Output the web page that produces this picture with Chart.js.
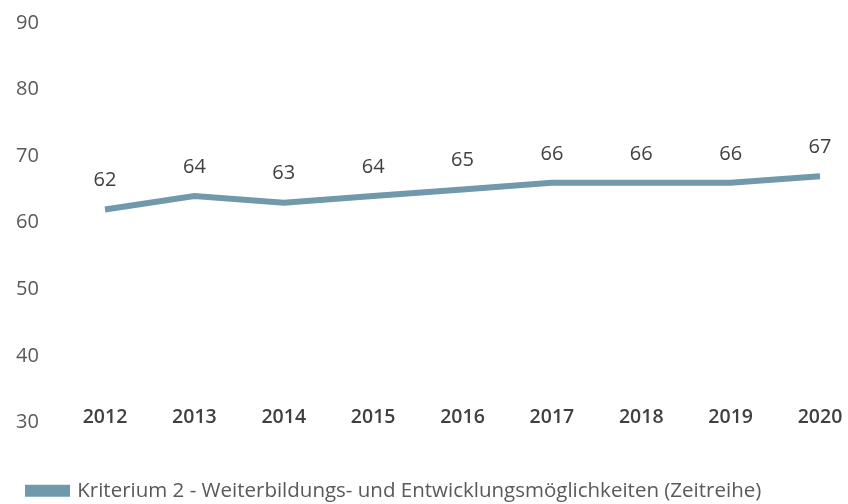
<!DOCTYPE html>
<html lang="de">
<head>
<meta charset="utf-8">
<script src="https://cdn.jsdelivr.net/npm/chart.js@4.4.1/dist/chart.umd.min.js"></script>
<style>
  html, body { margin: 0; padding: 0; background: #fff; }
  #wrap { width: 848px; height: 504px; }
</style>
</head>
<body>
<div id="wrap"><canvas id="trendChart" width="848" height="504"></canvas></div>
<script>
// Jahre und Werte der Zeitreihe
const years = ['2012', '2013', '2014', '2015', '2016', '2017', '2018', '2019', '2020'];
const values = [62, 64, 63, 64, 65, 66, 66, 66, 67];
const yTicks = [30, 40, 50, 60, 70, 80, 90];
const seriesLabel = 'Kriterium 2 - Weiterbildungs- und Entwicklungsmöglichkeiten (Zeitreihe)';

const lineColor = '#7099ab';
const fontFamily = '"Open Sans", "Noto Sans", sans-serif';

// Werte über die Linienpunkte schreiben
const valueLabels = {
    id: 'valueLabels',
    afterDatasetsDraw(chart) {
        const ctx = chart.ctx;
        const meta = chart.getDatasetMeta(0);
        ctx.save();
        ctx.font = '20px ' + fontFamily;
        ctx.fillStyle = '#404040';
        ctx.textAlign = 'center';
        ctx.textBaseline = 'middle';
        meta.data.forEach(function(pt, i) {
            ctx.fillText(String(values[i]), pt.x, pt.y - 29);
        });
        ctx.restore();
    }
};

// Legende etwas tiefer setzen, näher an den unteren Rand
const legendShift = {
    id: 'legendShift',
    afterLayout(chart) {
        const lg = chart.legend;
        if (!lg) return;
        lg.top += 7;
        lg.bottom += 7;
    }
};

const ctx = document.getElementById('trendChart').getContext('2d');
new Chart(ctx, {
    type: 'line',
    data: {
        labels: years,
        datasets: [{
            label: seriesLabel,
            data: values,
            borderColor: lineColor,
            backgroundColor: lineColor,
            borderWidth: 6,
            borderCapStyle: 'butt',
            borderJoinStyle: 'miter',
            tension: 0,
            pointRadius: 0,
            pointHoverRadius: 0,
            fill: false
        }]
    },
    options: {
        responsive: false,
        animation: false,
        layout: {
            padding: { top: 23, right: 28, bottom: 0, left: 16 }
        },
        plugins: {
            tooltip: { enabled: false },
            legend: {
                position: 'bottom',
                align: 'start',
                labels: {
                    boxWidth: 39,
                    boxHeight: 6,
                    color: '#595959',
                    padding: 12,
                    font: { family: fontFamily, size: 20.5 }
                }
            }
        },
        scales: {
            x: {
                offset: false,
                grid: { display: false },
                border: { display: false },
                afterFit: function(scale) {
                    scale.height = 39;
                },
                ticks: {
                    mirror: true,
                    color: '#404040',
                    padding: -7,
                    maxRotation: 0,
                    autoSkip: false,
                    font: { family: fontFamily, size: 19.5, weight: '600' }
                }
            },
            y: {
                min: 30,
                max: 90,
                afterBuildTicks: function(scale) {
                    scale.ticks = yTicks.map(function(v) { return { value: v }; });
                },
                afterFit: function(scale) {
                    scale.width = 89;
                },
                grid: { display: false },
                border: { display: false },
                ticks: {
                    color: '#595959',
                    padding: 0,
                    crossAlign: 'far',
                    font: { family: fontFamily, size: 20 }
                }
            }
        }
    },
    plugins: [valueLabels, legendShift]
});
</script>
</body>
</html>
